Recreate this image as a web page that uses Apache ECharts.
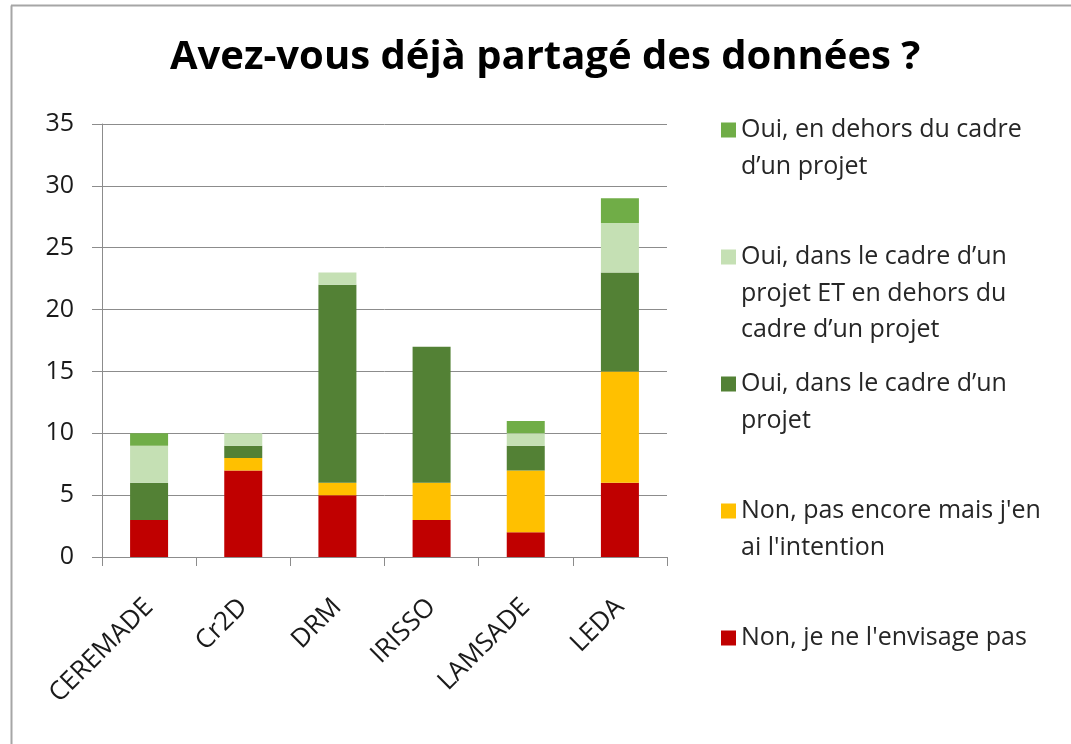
<!DOCTYPE html>
<html>
<head>
<meta charset="utf-8">
<script src="https://cdn.jsdelivr.net/npm/echarts@6/dist/echarts.min.js"></script>
<style>
html,body{margin:0;padding:0;background:#fff;}
#chart{width:1071px;height:744px;}
</style>
</head>
<body>
<div id="chart"></div>
<script>
const categories = ['CEREMADE', 'Cr2D', 'DRM', 'IRISSO', 'LAMSADE', 'LEDA'];
const seriesNames = [
  "Non, je ne l'envisage pas",
  "Non, pas encore mais j'en ai l'intention",
  "Oui, dans le cadre d’un projet",
  "Oui, dans le cadre d’un projet ET en dehors du cadre d’un projet",
  "Oui, en dehors du cadre d’un projet"
];
const legendLabels = [
  "Non, je ne l'envisage pas",
  "Non, pas encore mais j'en\nai l'intention",
  "Oui, dans le cadre d’un\nprojet",
  "Oui, dans le cadre d’un\nprojet ET en dehors du\ncadre d’un projet",
  "Oui, en dehors du cadre\nd’un projet"
];
const nonJamais    = [3, 7, 5, 3, 2, 6];
const nonPasEncore = [0, 1, 1, 3, 5, 9];
const ouiProjet    = [3, 1, 16, 11, 2, 8];
const ouiLesDeux   = [3, 1, 1, 0, 1, 4];
const ouiHors      = [1, 0, 0, 0, 1, 2];
const yTicks = [0, 5, 10, 15, 20, 25, 30, 35];
const titleText = 'Avez-vous déjà partagé des données ?';

const seriesData = [nonJamais, nonPasEncore, ouiProjet, ouiLesDeux, ouiHors];
const colors = ['#C00000', '#FFC000', '#538135', '#C5E0B4', '#70AD47'];
const FONT = 'Open Sans';
const LH = 36.5;
const ICON = 15;
const TITLE_SIZE = 40;

// legend order top-to-bottom, first-line centre y
const legendOrder = [4, 3, 2, 1, 0];
const legendY = [125, 252, 379, 506, 633];

const legends = legendOrder.map((si, k) => {
  const lines = legendLabels[si].split('\n').length;
  const H = ICON + (lines - 1) * LH;
  const iconPath = lines > 1
    ? 'path://M0,0L' + ICON + ',0L' + ICON + ',' + ICON + 'L0,' + ICON + 'Z M0,' + H + 'L0.001,' + H + 'L0,' + H + 'Z'
    : 'rect';
  return {
    data: [{ name: seriesNames[si], icon: iconPath }],
    left: 716,
    top: legendY[k] - LH / 2,
    orient: 'vertical',
    itemWidth: ICON,
    itemHeight: H,
    itemGap: 0,
    selectedMode: false,
    formatter: () => legendLabels[si],
    textStyle: {
      fontFamily: FONT, fontSize: 25, color: '#262626',
      lineHeight: LH
    }
  };
});

// centre the title at x = 545 like the reference
const ctx = document.createElement('canvas').getContext('2d');
ctx.font = 'bold ' + TITLE_SIZE + 'px "' + FONT + '"';
const titleW = ctx.measureText(titleText).width;

const chart = echarts.init(document.getElementById('chart'));
chart.setOption({
  backgroundColor: '#fff',
  animation: false,
  title: {
    text: titleText,
    left: Math.round(545 - titleW / 2),
    top: 38,
    padding: 0,
    textStyle: { fontFamily: FONT, fontSize: TITLE_SIZE, fontWeight: 'bold', color: '#000' }
  },
  legend: legends,
  grid: { left: 102, top: 124, width: 565, height: 433, containLabel: false },
  xAxis: {
    type: 'category',
    data: categories,
    axisLine: { lineStyle: { color: '#8c8c8c', width: 1 } },
    axisTick: { show: true, length: 9, lineStyle: { color: '#8c8c8c' } },
    axisLabel: { rotate: 45, margin: 46, fontFamily: FONT, fontSize: 26, color: '#1a1a1a', interval: 0 }
  },
  yAxis: {
    type: 'value',
    min: 0, max: 35, interval: 5,
    axisLine: { show: true, lineStyle: { color: '#8c8c8c', width: 1 } },
    axisTick: { show: true, length: 10, lineStyle: { color: '#8c8c8c' } },
    splitLine: { lineStyle: { color: '#8c8c8c', width: 1 } },
    axisLabel: {
      margin: 28, fontFamily: FONT, fontSize: 25, color: '#1a1a1a',
      formatter: v => yTicks.includes(v) ? String(v) : ''
    }
  },
  series: seriesData.map((d, i) => ({
    name: seriesNames[i],
    type: 'bar',
    stack: 'total',
    data: d,
    barWidth: 38,
    itemStyle: { color: colors[i] }
  })),
  graphic: [
    { type: 'line', shape: { x1: 11.5, y1: 5.5, x2: 11.5, y2: 744 }, style: { stroke: '#a6a6a6', lineWidth: 2 }, silent: true },
    { type: 'line', shape: { x1: 11, y1: 5.5, x2: 1071, y2: 5.5 }, style: { stroke: '#a6a6a6', lineWidth: 2 }, silent: true }
  ]
});
</script>
</body>
</html>
